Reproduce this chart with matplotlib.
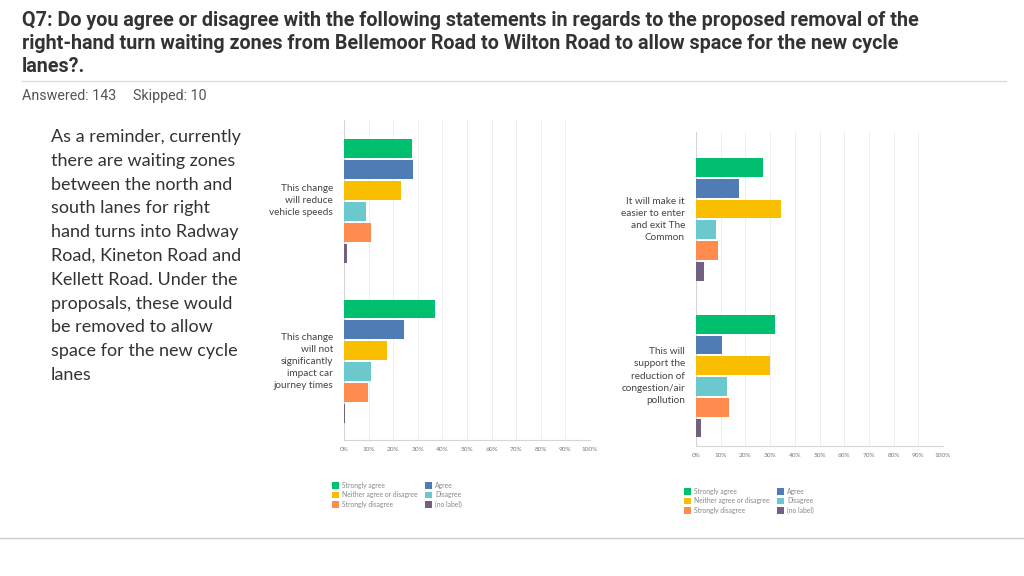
import matplotlib
matplotlib.use("Agg")
import matplotlib.pyplot as plt
from matplotlib.patches import Patch
from matplotlib.lines import Line2D
from matplotlib import font_manager

W, H = 1024, 576

responses = ["Strongly agree", "Agree", "Neither agree or disagree",
             "Disagree", "Strongly disagree", "(no label)"]
colors = ["#00BF6F", "#507CB6", "#F9BE00", "#6BC8CD", "#FF8B4F", "#71607F"]

left_statements = ["This change\nwill reduce\nvehicle speeds",
                   "This change\nwill not\nsignificantly\nimpact car\njourney times"]
left_values = [
    [27.5, 28.0, 23.3, 9.0, 11.0, 1.2],
    [36.8, 24.5, 17.6, 11.0, 9.8, 0.6],
]

right_statements = ["It will make it\neasier to enter\nand exit The\nCommon",
                    "This will\nsupport the\nreduction of\ncongestion/air\npollution"]
right_values = [
    [27.2, 17.5, 34.4, 8.2, 9.0, 3.2],
    [31.8, 10.6, 30.1, 12.5, 13.2, 2.0],
]

ticks = [0, 10, 20, 30, 40, 50, 60, 70, 80, 90, 100]
tick_labels = [f"{t}%" for t in ticks]

available = {f.name for f in font_manager.fontManager.ttflist}
narrow = "Liberation Sans"
for cand in ["Liberation Sans Narrow", "DejaVu Sans Condensed", "Roboto", "Liberation Sans"]:
    if cand in available:
        narrow = cand
        break

fig = plt.figure(figsize=(W / 100, H / 100), dpi=100)
fig.patch.set_facecolor("white")


def px_axes(x0, y0, x1, y1):
    return fig.add_axes([x0 / W, 1 - y1 / H, (x1 - x0) / W, (y1 - y0) / H])


def draw_chart(ax, statements, values, gap, top_pad, bot_pad, label_x_off):
    offsets = [0, gap]
    for g, (stmt, vals) in enumerate(zip(statements, values)):
        for i, v in enumerate(vals):
            ax.barh(offsets[g] + i, v, height=0.9, color=colors[i],
                    edgecolor="none", zorder=3)
        ax.text(-label_x_off, offsets[g] + 2.5, stmt, ha="right", va="center",
                fontsize=7.2, family="Lato", color="#444444",
                linespacing=1.45, transform=ax.transData, clip_on=False)
    ax.set_xlim(0, 100)
    ax.set_ylim(gap + 5 + bot_pad, -top_pad)
    ax.set_xticks(ticks)
    ax.set_xticklabels(tick_labels, fontsize=4.6, color="#777777", family="Lato")
    ax.set_yticks([])
    ax.tick_params(axis="x", length=0, pad=5)
    ax.grid(axis="x", color="#EEEEEE", linewidth=0.7, zorder=0)
    for s in ["top", "right", "left"]:
        ax.spines[s].set_visible(False)
    ax.spines["bottom"].set_color("#D5D5D5")
    ax.spines["bottom"].set_linewidth(0.8)
    ax.axvline(0, color="#D5D5D5", linewidth=0.8, zorder=2)


ax1 = px_axes(344, 120, 590, 440)
draw_chart(ax1, left_statements, left_values, 7.67, 1.36, 1.26, 4.5)

ax2 = px_axes(696, 132, 943, 446)
draw_chart(ax2, right_statements, right_values, 7.55, 1.71, 0.87, 4.5)

# legends
order = [0, 2, 4, 1, 3, 5]
handles = [Patch(facecolor=colors[i], edgecolor="none") for i in order]
labels = [responses[i] for i in order]
for (lx, ly) in [(332, 482), (684, 488)]:
    fig.legend(handles, labels, ncol=2, loc="upper left",
               bbox_to_anchor=(lx / W, 1 - ly / H), frameon=False,
               handlelength=1.1, handleheight=1.1,
               handletextpad=0.4, columnspacing=1.0, labelspacing=0.36,
               borderpad=0, borderaxespad=0,
               prop={"family": "Lato", "size": 4.9}, labelcolor="#888888")

# title
title_lines = ["Q7: Do you agree or disagree with the following statements in regards to the proposed removal of the",
               "right-hand turn waiting zones from Bellemoor Road to Wilton Road to allow space for the new cycle",
               "lanes?."]
renderer = fig.canvas.get_renderer()


def fitted_size(text, target_px, weight, base=12.0):
    t = fig.text(0, 0, text, fontsize=base, fontweight=weight, family=narrow)
    w = t.get_window_extent(renderer).width
    t.remove()
    return base * target_px / w


tsize = fitted_size(title_lines[0], 895, "bold")
for k, line in enumerate(title_lines):
    fig.text(22 / W, 1 - (21 + 22.5 * k) / H, line, ha="left", va="center",
             fontsize=tsize, fontweight="bold", family=narrow, color="#333333")

fig.add_artist(Line2D([22 / W, 1006 / W], [1 - 81 / H, 1 - 81 / H],
                      color="#D8D8D8", linewidth=0.9))
asize = min(fitted_size("Answered: 143", 94, "normal"), 10.5)
fig.text(22 / W, 1 - 96 / H, "Answered: 143", ha="left",
         va="center", fontsize=asize, family=narrow, color="#555555")
fig.text(133 / W, 1 - 96 / H, "Skipped: 10", ha="left",
         va="center", fontsize=asize, family=narrow, color="#555555")

# side note
note = ("As a reminder, currently\nthere are waiting zones\nbetween the north and\n"
        "south lanes for right\nhand turns into Radway\nRoad, Kineton Road and\n"
        "Kellett Road. Under the\nproposals, these would\nbe removed to allow\n"
        "space for the new cycle\nlanes")
fig.text(51 / W, 1 - 129 / H, note, ha="left", va="top", fontsize=13,
         family="Lato", color="#333333", linespacing=1.6)

fig.add_artist(Line2D([0, 1], [1 - 538 / H, 1 - 538 / H],
                      color="#CCCCCC", linewidth=1.0))

fig.savefig("out.png", dpi=100, facecolor="white")
